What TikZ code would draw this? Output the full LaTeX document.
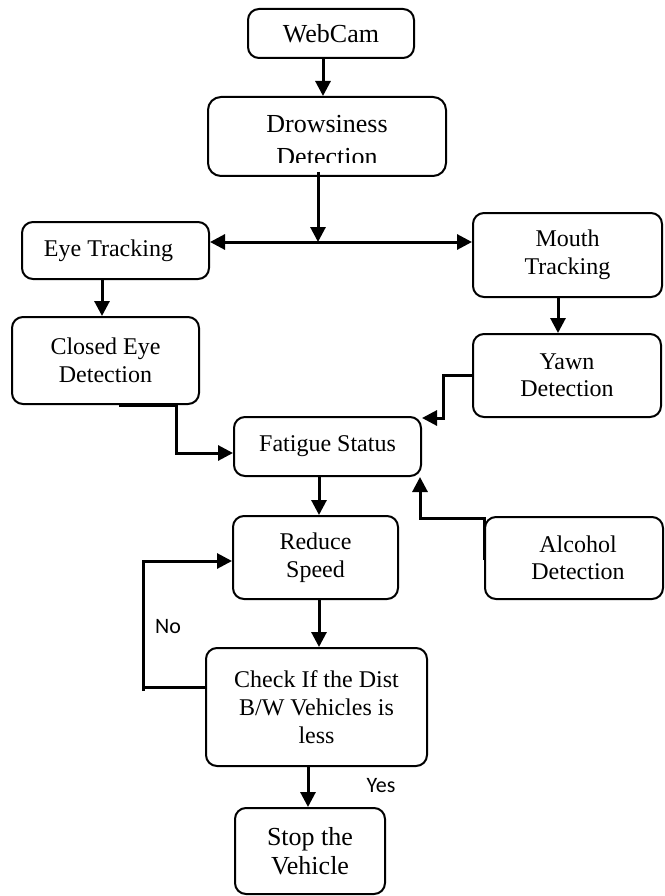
\documentclass[tikz,border=0pt]{standalone}
\usepackage{fontspec}
\setmainfont{Liberation Serif}
\newfontfamily\labelfont{Carlito}
\usetikzlibrary{arrows.meta}
\tikzset{
  box/.style={draw, line width=2pt, rounded corners=11pt, inner sep=0pt, align=center,
    font=\fontsize{24}{27.5}\selectfont},
  bigbox/.style={box, font=\fontsize{26}{28.5}\selectfont},
  conn/.style={line width=3pt},
  arr/.style={conn, -{Triangle[length=15pt,width=15pt]}},
  darr/.style={conn, {Triangle[length=15pt,width=15pt]}-{Triangle[length=15pt,width=15pt]}},
  lbl/.style={font=\labelfont\fontsize{22}{24}\selectfont, inner sep=0pt}
}
\begin{document}
\begin{tikzpicture}[x=1pt,y=-1pt]
\useasboundingbox (0,0) rectangle (664,896);
\fill[white] (0,0) rectangle (664,896);

\node[bigbox, minimum width=166pt, minimum height=49pt] (webcam) at (331,33.5) {WebCam};
\node[box, rounded corners=13pt, minimum width=238pt, minimum height=79pt] (drowsy) at (327,136.5) {};
\begin{scope}
  \clip (208,97) rectangle (446,163);
  \node[font=\fontsize{26}{33}\selectfont, align=center, inner sep=0pt] (drowsytext) at (327,141) {Drowsiness\\Detection};
\end{scope}
\node[box, minimum width=187pt, minimum height=57pt] (eye) at (115.5,250.5) {\hspace*{-14pt}Eye Tracking};
\node[box, minimum width=189pt, minimum height=84pt] (mouth) at (567.5,255) {Mouth\\Tracking};
\node[box, minimum width=187pt, minimum height=87pt] (closed) at (105.5,360.5) {Closed Eye\\Detection};
\node[box, minimum width=188pt, minimum height=83pt] (yawn) at (567,375.5) {Yawn\\Detection};
\node[box, minimum width=187pt, minimum height=59pt] (fatigue) at (327.5,446.5) {Fatigue Status};
\node[box, minimum width=178pt, minimum height=82pt] (alcohol) at (574,558) {\hspace*{8pt}Alcohol\\\hspace*{8pt}Detection};
\node[box, minimum width=165pt, minimum height=83pt] (reduce) at (315.5,557.5) {Reduce\\Speed};
\node[box, font=\fontsize{24}{28.3}\selectfont, minimum width=221pt, minimum height=118pt] (check) at (316.5,707) {Check If the Dist\\B/W Vehicles is\\less};
\node[bigbox, minimum width=150pt, minimum height=86pt] (stop) at (310,851) {Stop the\\Vehicle};

\node[lbl] (no) at (168,627) {No};
\node[lbl] (yes) at (381,786) {Yes};

\coordinate (junc) at (318,242);
\coordinate (cebend) at (176,453);
\coordinate (ybend) at (443,418);
\coordinate (abend) at (420,518);
\coordinate (nobot) at (143,691);
\coordinate (notop) at (143,561);

% connectors
\draw[arr] (webcam.south -| 323,0) -- (drowsy.north -| 323,0);
\draw[arr] (drowsy.south -| junc) ++(0,-5) -- (junc);
\draw[darr] (eye.east |- junc) -- (mouth.west |- junc);
\draw[arr] (eye.south -| 102,0) -- (closed.north -| 102,0);
\draw[arr] (mouth.south -| 558,0) -- (yawn.north -| 558,0);
\draw[arr] (closed.south -| 119,0) -| (cebend) -- (fatigue.west |- cebend);
\draw[arr] (yawn.west |- 0,375) -| (ybend) -- (fatigue.east |- ybend);
\draw[arr] (alcohol.west |- 0,560) -- (alcohol.west |- abend) -- (abend) -- (fatigue.south east -| abend);
\draw[arr] (fatigue.south -| 319,0) -- (reduce.north -| 319,0);
\draw[arr] (reduce.south -| 319,0) -- (check.north -| 319,0);
\draw[conn] (check.west |- 0,687) -- (nobot |- 0,687);
\draw[arr] (nobot) -- (notop) -- (reduce.west |- notop);
\draw[arr] (check.south -| 308,0) -- (stop.north -| 308,0);
\end{tikzpicture}
\end{document}
